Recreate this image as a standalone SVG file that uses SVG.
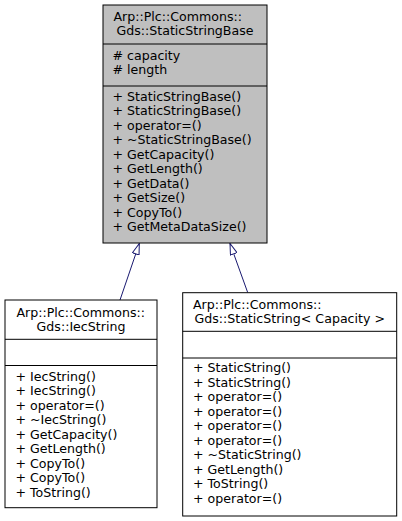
<svg xmlns="http://www.w3.org/2000/svg" width="402" height="521" viewBox="0 0 402 521">
<style>
text{font-family:"DejaVu Sans","Liberation Sans",sans-serif;font-size:12.6px;fill:#000}
.box{stroke:#000;stroke-width:1}
.focus{fill:#bfbfbf}
.plain{fill:#fff}
.div{stroke:#000;stroke-width:1}
.mid{text-anchor:middle}
.edge{stroke:#191970;stroke-width:1;fill:none}
</style>
<defs>
<marker id="inh" viewBox="0 0 12 8" refX="11.5" refY="4" markerWidth="12" markerHeight="8" markerUnits="userSpaceOnUse" orient="auto">
<path d="M0.5,0.5 L11.5,4 L0.5,7.5 Z" fill="#fff" stroke="#191970" stroke-width="1"/>
</marker>
</defs>
<rect width="402" height="521" fill="#fff"/>
<g id="connectors">
<path class="edge" d="M120,300 L139.3,243.5" marker-end="url(#inh)"/>
<path class="edge" d="M247.7,292.5 L230,243.5" marker-end="url(#inh)"/>
</g>
<g id="node-StaticStringBase">
<rect class="box focus" x="103" y="5" width="164" height="238"/>
<line class="div" x1="103" y1="44" x2="267" y2="44"/>
<line class="div" x1="103" y1="86" x2="267" y2="86"/>
<text x="113.5" y="20.7">Arp::Plc::Commons::</text>
<text class="mid" x="185" y="35.3">Gds::StaticStringBase</text>
<text x="112.5" y="59.5"># capacity</text>
<text x="112.5" y="74"># length</text>
<text x="112.5" y="100.5">+ StaticStringBase()</text>
<text x="112.5" y="115">+ StaticStringBase()</text>
<text x="112.5" y="129.5">+ operator=()</text>
<text x="112.5" y="144">+ ~StaticStringBase()</text>
<text x="112.5" y="158.5">+ GetCapacity()</text>
<text x="112.5" y="173">+ GetLength()</text>
<text x="112.5" y="187.5">+ GetData()</text>
<text x="112.5" y="202">+ GetSize()</text>
<text x="112.5" y="216.5">+ CopyTo()</text>
<text x="112.5" y="231">+ GetMetaDataSize()</text>
</g>
<g id="node-IecString">
<rect class="box plain" x="5" y="300" width="152" height="207.7"/>
<line class="div" x1="5" y1="339.3" x2="157" y2="339.3"/>
<line class="div" x1="5" y1="365.5" x2="157" y2="365.5"/>
<text x="16.5" y="316.5">Arp::Plc::Commons::</text>
<text class="mid" x="81" y="331">Gds::IecString</text>
<text x="15.5" y="380.7">+ IecString()</text>
<text x="15.5" y="395.2">+ IecString()</text>
<text x="15.5" y="409.7">+ operator=()</text>
<text x="15.5" y="424.2">+ ~IecString()</text>
<text x="15.5" y="438.7">+ GetCapacity()</text>
<text x="15.5" y="453.2">+ GetLength()</text>
<text x="15.5" y="467.7">+ CopyTo()</text>
<text x="15.5" y="482.2">+ CopyTo()</text>
<text x="15.5" y="496.7">+ ToString()</text>
</g>
<g id="node-StaticString">
<rect class="box plain" x="182.7" y="292.7" width="214" height="223.3"/>
<line class="div" x1="182.7" y1="331.3" x2="396.7" y2="331.3"/>
<line class="div" x1="182.7" y1="358" x2="396.7" y2="358"/>
<text x="193" y="308.7">Arp::Plc::Commons::</text>
<text class="mid" x="289.7" y="323.2">Gds::StaticString&lt; Capacity &gt;</text>
<text x="193" y="372">+ StaticString()</text>
<text x="193" y="386.5">+ StaticString()</text>
<text x="193" y="401">+ operator=()</text>
<text x="193" y="415.5">+ operator=()</text>
<text x="193" y="430">+ operator=()</text>
<text x="193" y="444.5">+ operator=()</text>
<text x="193" y="459">+ ~StaticString()</text>
<text x="193" y="473.5">+ GetLength()</text>
<text x="193" y="488">+ ToString()</text>
<text x="193" y="502.5">+ operator=()</text>
</g>
</svg>
